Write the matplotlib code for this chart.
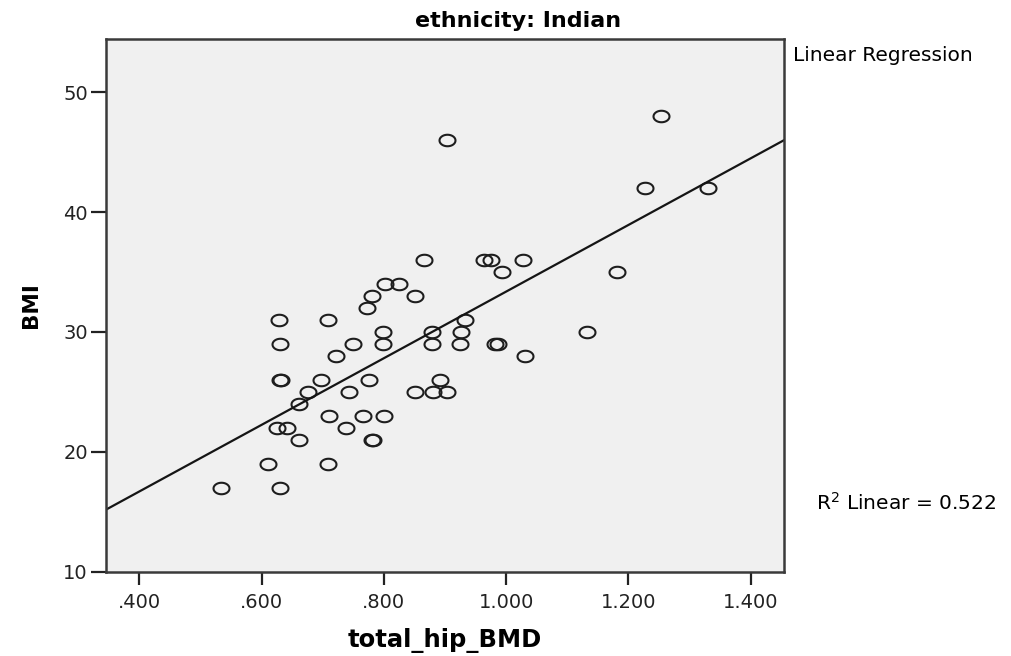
import numpy as np
import matplotlib.pyplot as plt
from matplotlib.path import Path

# total hip BMD (g/cm2) and BMI for the Indian subgroup
hip_bmd = [0.866, 0.802, 0.824, 0.781, 0.851, 0.773, 0.628, 0.708, 0.799, 0.879,
           0.630, 0.749, 0.798, 0.879, 0.722, 0.630, 0.632, 0.698, 0.775, 0.892,
           0.676, 0.743, 0.851, 0.881, 0.903, 0.661, 0.711, 0.766, 0.801, 0.626,
           0.641, 0.738, 0.661, 0.780, 0.782, 0.610, 0.709, 0.533, 0.630, 0.963,
           0.975, 1.028, 0.994, 1.181, 0.933, 0.926, 1.132, 0.925, 0.982, 0.987,
           1.031, 0.904, 1.253, 1.227, 1.330]
bmi = [36, 34, 34, 33, 33, 32, 31, 31, 30, 30,
       29, 29, 29, 29, 28, 26, 26, 26, 26, 26,
       25, 25, 25, 25, 25, 24, 23, 23, 23, 22,
       22, 22, 21, 21, 21, 19, 19, 17, 17, 36,
       36, 36, 35, 35, 31, 30, 30, 29, 29, 29,
       28, 46, 48, 42, 42]

x_ticks = [0.4, 0.6, 0.8, 1.0, 1.2, 1.4]
x_ticklabels = ['.400', '.600', '.800', '1.000', '1.200', '1.400']
y_ticks = [10, 20, 30, 40, 50]
r2_text = '0.522'

plt.rcParams['font.family'] = ['DejaVu Sans']

# slightly wide open ellipse marker
t = np.linspace(0, 2 * np.pi, 60)
ell = Path(np.column_stack([np.cos(t), 0.72 * np.sin(t)]), closed=True)

fig = plt.figure(figsize=(10.11, 6.56), dpi=100)
ax = fig.add_axes([0.1048, 0.1285, 0.6707, 0.8115])
ax.set_facecolor('#f0f0f0')

x = np.array(hip_bmd)
y = np.array(bmi)
ax.plot(x, y, linestyle='none', marker=ell, markersize=11.5,
        markerfacecolor='none', markeredgecolor='#1e1e1e', markeredgewidth=1.5)

xlim = (0.3455, 1.4545)
slope, inter = np.polyfit(x, y, 1)
xl = np.array(xlim)
ax.plot(xl, inter + slope * xl, color='#151515', lw=1.6)

ax.set_xlim(xlim)
ax.set_ylim(10, 54.4)
ax.set_xticks(x_ticks)
ax.set_xticklabels(x_ticklabels)
ax.set_yticks(y_ticks)
ax.tick_params(direction='out', width=1.6, labelsize=14, colors='#222222')
ax.tick_params(axis='x', length=9, pad=6)
ax.tick_params(axis='y', length=11, pad=2)
for s in ax.spines.values():
    s.set_linewidth(1.8)
    s.set_color('#3a3a3a')

ax.set_xlabel('total_hip_BMD', fontsize=17.5, fontweight='bold', labelpad=12)
ax.set_ylabel('BMI', fontsize=15.5, fontweight='bold', labelpad=16)

fig.text(0.512, 0.968, 'ethnicity: Indian', fontsize=16, fontweight='bold',
         ha='center', va='center')
fig.text(0.784, 0.916, 'Linear Regression', fontsize=14.5, va='center', ha='left')
fig.text(0.807, 0.233, r'R$^2$ Linear = ' + r2_text, fontsize=14.5, va='center', ha='left')

fig.savefig('out.png', dpi=100)
